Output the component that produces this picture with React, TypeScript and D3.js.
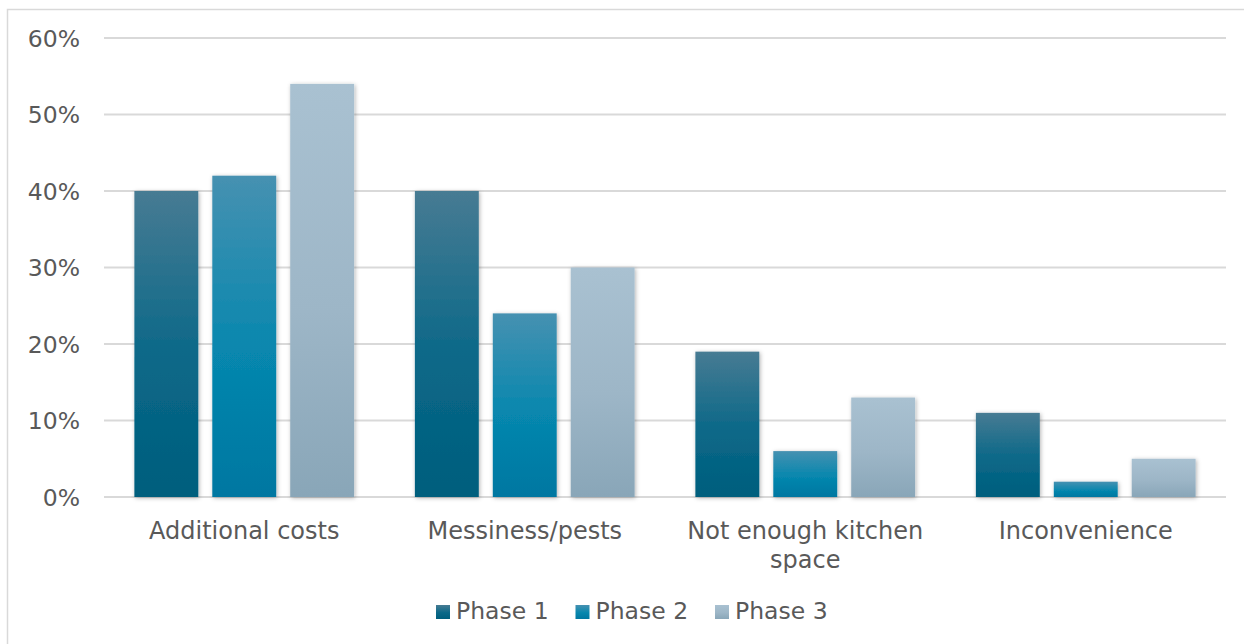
import React from "react";
import * as d3 from "d3";

const categories = [["Additional costs"], ["Messiness/pests"], ["Not enough kitchen", "space"], ["Inconvenience"]];
const seriesNames = ["Phase 1", "Phase 2", "Phase 3"];
const phase1 = [40, 40, 19, 11];
const phase2 = [42, 24, 6, 2];
const phase3 = [54, 30, 13, 5];
const yTicks = [0, 10, 20, 30, 40, 50, 60];

const W = 1244;
const H = 644;
const plotLeft = 104;
const plotRight = 1226;
const plotTop = 38;
const plotBottom = 497;
const FONT = "'DejaVu Sans', Verdana, sans-serif";
const grads = [
  ["#477b93", "#0a6888", "#005e7d"],
  ["#4691b1", "#0787ae", "#0077a1"],
  ["#a9c1d1", "#9db6c7", "#89a6b8"],
];

export default function App() {
  const series = [phase1, phase2, phase3];
  const catKeys = categories.map((c) => c.join(" "));
  const x0 = d3.scaleBand<string>().domain(catKeys).range([plotLeft, plotRight]).padding(0);
  const x1 = d3
    .scaleBand<string>()
    .domain(seriesNames)
    .range([0, x0.bandwidth()])
    .paddingInner(0.18)
    .paddingOuter(0.39);
  const y = d3.scaleLinear().domain([0, 60]).range([plotBottom, plotTop]);

  const legendStep = 139.5;
  const legendStart = 436;

  return (
    <svg
      width={W}
      height={H}
      style={{ position: "absolute", left: 0, top: 0, background: "#fff" }}
      fontFamily={FONT}
    >
      <defs>
        {grads.map((g, i) => (
          <linearGradient key={i} id={`g${i}`} x1="0" y1="0" x2="0" y2="1">
            <stop offset="0" stopColor={g[0]} />
            <stop offset="0.55" stopColor={g[1]} />
            <stop offset="1" stopColor={g[2]} />
          </linearGradient>
        ))}
        <filter id="sh" x="-20%" y="-20%" width="140%" height="140%">
          <feDropShadow dx="1" dy="1" stdDeviation="2" floodColor="#000" floodOpacity="0.3" />
        </filter>
      </defs>
      <rect x={0} y={0} width={W} height={H} fill="#fff" />
      <rect x={7.5} y={9.5} width={W + 20} height={H + 20} fill="none" stroke="#d9d9d9" strokeWidth={1.5} />
      {yTicks.map((t) => (
        <g key={t}>
          <line x1={plotLeft} x2={plotRight} y1={y(t)} y2={y(t)} stroke="#d9d9d9" strokeWidth={2} />
          <text x={80} y={y(t) + 8.5} textAnchor="end" fontSize={23.5} fill="#595959">
            {t}%
          </text>
        </g>
      ))}
      {catKeys.map((k, ci) => (
        <g key={k}>
          {series.map((s, si) => (
            <rect
              key={si}
              x={(x0(k) as number) + (x1(seriesNames[si]) as number)}
              y={y(s[ci])}
              width={x1.bandwidth()}
              height={plotBottom - y(s[ci])}
              fill={`url(#g${si})`}
              filter="url(#sh)"
            />
          ))}
          <text textAnchor="middle" fontSize={24} fill="#595959">
            {categories[ci].map((line, li) => (
              <tspan key={li} x={(x0(k) as number) + x0.bandwidth() / 2} y={539 + li * 29}>
                {line}
              </tspan>
            ))}
          </text>
        </g>
      ))}
      {seriesNames.map((n, i) => (
        <g key={n} transform={`translate(${legendStart + i * legendStep},0)`}>
          <rect x={0} y={605} width={14} height={14} fill={`url(#g${i})`} />
          <text x={20} y={619} fontSize={23.5} fill="#595959">
            {n}
          </text>
        </g>
      ))}
    </svg>
  );
}
